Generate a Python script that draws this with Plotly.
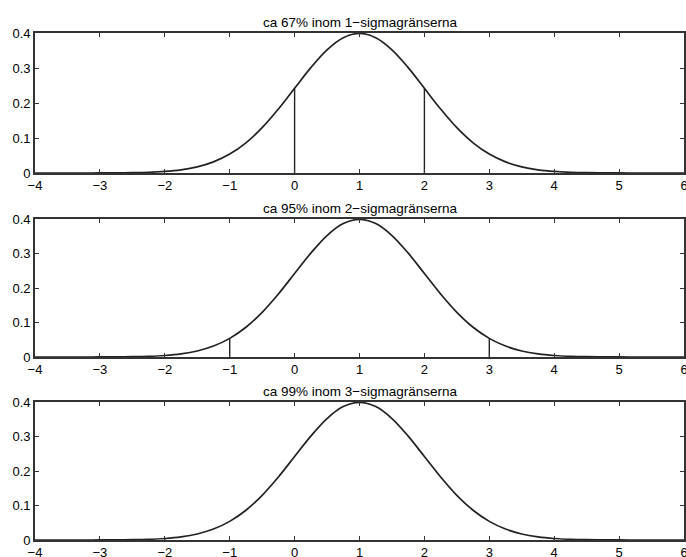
import plotly.graph_objects as go

# x grid and read curve values (normal density, mean 1, sigma 1)
x_vals = [-4.0, -3.75, -3.5, -3.25, -3.0, -2.75, -2.5, -2.25, -2.0, -1.75, -1.5, -1.25,
          -1.0, -0.75, -0.5, -0.25, 0.0, 0.25, 0.5, 0.75, 1.0, 1.25, 1.5, 1.75, 2.0,
          2.25, 2.5, 2.75, 3.0, 3.25, 3.5, 3.75, 4.0, 4.25, 4.5, 4.75, 5.0, 5.25,
          5.5, 5.75, 6.0]
y_vals = [0.0000, 0.0000, 0.0000, 0.0000, 0.0001, 0.0004, 0.0009, 0.0020, 0.0044,
          0.0091, 0.0175, 0.0317, 0.0540, 0.0863, 0.1295, 0.1827, 0.2420, 0.3011,
          0.3521, 0.3867, 0.3989, 0.3867, 0.3521, 0.3011, 0.2420, 0.1827, 0.1295,
          0.0863, 0.0540, 0.0317, 0.0175, 0.0091, 0.0044, 0.0020, 0.0009, 0.0004,
          0.0001, 0.0000, 0.0000, 0.0000, 0.0000]

titles = ["ca 67% inom 1\u2212sigmagränserna",
          "ca 95% inom 2\u2212sigmagränserna",
          "ca 99% inom 3\u2212sigmagränserna"]
limit_x = [[0, 2], [-1, 3], [-2, 4]]
limit_h = [[0.2420, 0.2420], [0.0540, 0.0540], [0.0044, 0.0044]]

x_ticks = [-4, -3, -2, -1, 0, 1, 2, 3, 4, 5, 6]
x_tick_text = ["\u22124", "\u22123", "\u22122", "\u22121", "0", "1", "2", "3", "4", "5", "6"]
y_ticks = [0, 0.1, 0.2, 0.3, 0.4]
y_tick_text = ["0", "0.1", "0.2", "0.3", "0.4"]

W, H = 686, 557
# pixel extents of each panel (top, bottom)
panel_px = [(33, 173), (219, 357), (402, 540)]
domains = [[1 - b / H, 1 - t / H] for t, b in panel_px]
xdom = [35 / W, 684 / W]

fig = go.Figure()
font = dict(family="Liberation Sans, Arial, sans-serif", size=13, color="#000")

for i in range(3):
    xa = "x" if i == 0 else f"x{i+1}"
    ya = "y" if i == 0 else f"y{i+1}"
    fig.add_trace(go.Scatter(x=x_vals, y=y_vals, mode="lines",
                             line=dict(color="#222", width=1.7, shape="spline"),
                             xaxis=xa, yaxis=ya, showlegend=False, hoverinfo="skip"))
    for lx, lh in zip(limit_x[i], limit_h[i]):
        fig.add_trace(go.Scatter(x=[lx, lx], y=[0, lh], mode="lines",
                                 line=dict(color="#222", width=1.4),
                                 xaxis=xa, yaxis=ya, showlegend=False, hoverinfo="skip"))
    axkw = dict(showline=True, linecolor="#333", linewidth=1.6, mirror="ticks",
                ticks="inside", ticklen=4, tickcolor="#333", tickwidth=1,
                showgrid=False, zeroline=False, tickfont=font, automargin=False,
                ticklabeloverflow="allow")
    fig.layout[("xaxis" if i == 0 else f"xaxis{i+1}")] = dict(
        domain=xdom, range=[-4, 6], tickvals=x_ticks, ticktext=x_tick_text,
        anchor=ya, ticklabelstandoff=0, **axkw)
    fig.layout[("yaxis" if i == 0 else f"yaxis{i+1}")] = dict(
        domain=domains[i], range=[0, 0.4], tickvals=y_ticks, ticktext=y_tick_text,
        anchor=xa, **axkw)
    fig.add_annotation(text=titles[i], xref="paper", yref="paper",
                       x=(xdom[0] + xdom[1]) / 2, y=domains[i][1], yanchor="bottom",
                       xanchor="center", yshift=1, showarrow=False,
                       font=dict(family="Liberation Sans, Arial, sans-serif", size=13.5, color="#000"))

fig.update_layout(width=W, height=H, margin=dict(l=0, r=0, t=0, b=0, pad=0),
                  paper_bgcolor="white", plot_bgcolor="white")
fig.write_html("out.html", config={"displayModeBar": False},
               post_script="document.body.style.margin='0';")
